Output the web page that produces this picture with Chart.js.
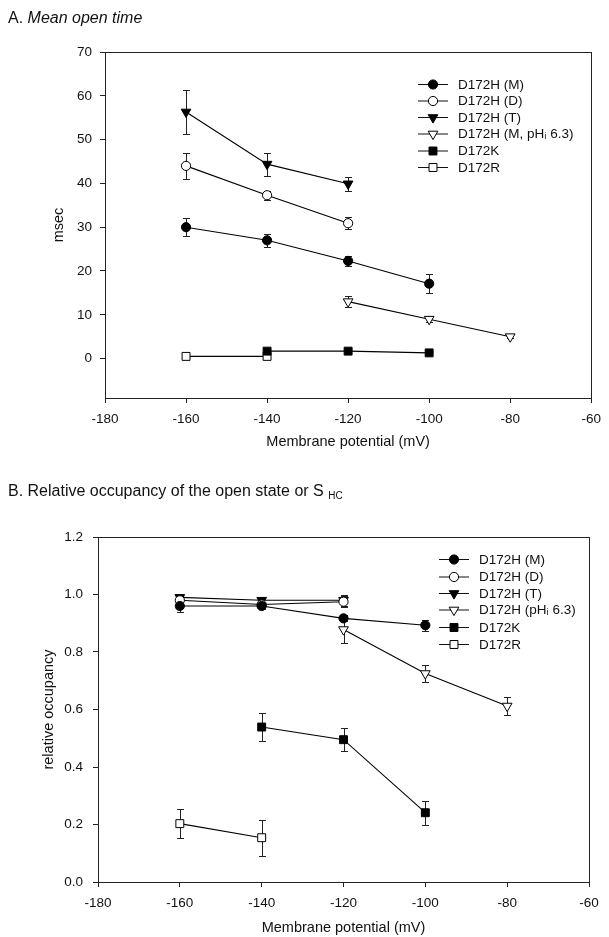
<!DOCTYPE html>
<html><head><meta charset="utf-8">
<script src="https://cdn.jsdelivr.net/npm/chart.js@4/dist/chart.umd.min.js"></script>
<style>
body{margin:0;background:#fff;width:609px;height:937px;position:relative;overflow:hidden;font-family:"Liberation Sans",Arial,sans-serif;}
canvas{position:absolute;left:0}
#c1{top:0}
#c2{top:460px}
.t{position:absolute;left:8px;font-size:16px;color:#111;white-space:nowrap;z-index:2}
.t sub{font-size:10px;vertical-align:-3px}
</style></head><body>
<canvas id="c1" width="609" height="460"></canvas>
<canvas id="c2" width="609" height="477"></canvas>
<div class="t" style="top:9px">A. <i>Mean open time</i></div>
<div class="t" style="top:482px">B. Relative occupancy of the open state or S <sub>HC</sub></div>
<script>
// ---------- Data: panel A (mean open time, msec) ----------
const labelsA = ['D172H (M)', 'D172H (D)', 'D172H (T)', 'D172H (M, pH\u1D62 6.3)', 'D172K', 'D172R'];
const vM_A = [-160, -140, -120, -100];
const yM_A = [30.0, 27.0, 22.3, 17.1];
const eM_A = [2.0, 1.5, 1.2, 2.1];
const vD_A = [-160, -140, -120];
const yD_A = [44.0, 37.3, 30.9];
const eD_A = [3.0, 1.0, 1.4];
const vT_A = [-160, -140, -120];
const yT_A = [56.3, 44.4, 39.9];
const eT_A = [5.0, 2.6, 1.6];
const vP_A = [-120, -100, -80];
const yP_A = [13.0, 9.0, 5.0];
const eP_A = [1.2, 0.7, 0.3];
const vK_A = [-140, -120, -100];
const yK_A = [1.7, 1.7, 1.3];
const eK_A = [0, 0, 0];
const vR_A = [-160, -140];
const yR_A = [0.5, 0.5];
const eR_A = [0, 0];
const yTicksA = [0, 10, 20, 30, 40, 50, 60, 70];

// ---------- Data: panel B (relative occupancy) ----------
const labelsB = ['D172H (M)', 'D172H (D)', 'D172H (T)', 'D172H (pH\u1D62 6.3)', 'D172K', 'D172R'];
const vM_B = [-160, -140, -120, -100];
const yM_B = [0.960, 0.960, 0.917, 0.893];
const eM_B = [0.020, 0.010, 0.010, 0.020];
const vD_B = [-160, -140, -120];
const yD_B = [0.980, 0.965, 0.975];
const eD_B = [0.010, 0.010, 0.020];
const vT_B = [-160, -140, -120];
const yT_B = [0.990, 0.980, 0.980];
const eT_B = [0.010, 0.010, 0.020];
const vP_B = [-120, -100, -80];
const yP_B = [0.878, 0.725, 0.612];
const eP_B = [0.048, 0.030, 0.030];
const vK_B = [-140, -120, -100];
const yK_B = [0.539, 0.495, 0.241];
const eK_B = [0.050, 0.040, 0.041];
const vR_B = [-160, -140];
const yR_B = [0.203, 0.154];
const eR_B = [0.050, 0.062];
const yTicksB = [0, 0.2, 0.4, 0.6, 0.8, 1.0, 1.2];

const xTicks = [-180, -160, -140, -120, -100, -80, -60];

// ---------- Styles ----------
const FONT = '"Liberation Sans", Arial, sans-serif';
const markerStyles = [
  {pointStyle: 'circle', radius: 4.6, rotation: 0, fill: '#000'},
  {pointStyle: 'circle', radius: 4.6, rotation: 0, fill: '#fff'},
  {pointStyle: 'triangle', radius: 5.6, rotation: 180, fill: '#000'},
  {pointStyle: 'triangle', radius: 5.6, rotation: 180, fill: '#fff'},
  {pointStyle: 'rect', radius: 5.6, rotation: 0, fill: '#000'},
  {pointStyle: 'rect', radius: 5.6, rotation: 0, fill: '#fff'}
];

function makeDataset(label, xs, ys, es, st) {
  return {
    label: label,
    data: xs.map((x, i) => ({x: x, y: ys[i]})),
    errors: es,
    borderColor: '#000',
    borderWidth: 1.1,
    showLine: true,
    fill: false,
    tension: 0,
    pointStyle: st.pointStyle,
    pointRadius: st.radius,
    pointRotation: st.rotation,
    pointBackgroundColor: st.fill,
    pointBorderColor: '#000',
    pointBorderWidth: 1
  };
}

const errorBars = {
  id: 'errorBars',
  beforeDatasetsDraw(chart) {
    const ctx = chart.ctx, xs = chart.scales.x, ys = chart.scales.y;
    ctx.save();
    ctx.strokeStyle = '#222';
    ctx.lineWidth = 1;
    chart.data.datasets.forEach(ds => {
      if (!ds.errors) return;
      ds.data.forEach((p, i) => {
        const e = ds.errors[i];
        if (!e) return;
        const px = Math.round(xs.getPixelForValue(p.x)) + 0.5;
        const y1 = Math.round(ys.getPixelForValue(p.y + e)) + 0.5;
        const y2 = Math.round(ys.getPixelForValue(p.y - e)) + 0.5;
        ctx.beginPath();
        ctx.moveTo(px, y1); ctx.lineTo(px, y2);
        ctx.moveTo(px - 3.5, y1); ctx.lineTo(px + 3.5, y1);
        ctx.moveTo(px - 3.5, y2); ctx.lineTo(px + 3.5, y2);
        ctx.stroke();
      });
    });
    ctx.restore();
  }
};

const frame = {
  id: 'frame',
  afterDraw(chart) {
    const a = chart.chartArea, ctx = chart.ctx;
    ctx.save();
    ctx.strokeStyle = '#222';
    ctx.lineWidth = 1;
    ctx.strokeRect(Math.round(a.left) + 0.5, Math.round(a.top) + 0.5, Math.round(a.right - a.left), Math.round(a.bottom - a.top));
    ctx.restore();
  }
};

const innerLegend = {
  id: 'innerLegend',
  afterDraw(chart, args, opts) {
    const ctx = chart.ctx;
    ctx.save();
    chart.data.datasets.forEach((ds, i) => {
      const y = opts.rows[i];
      const x0 = opts.x;
      ctx.strokeStyle = '#111';
      ctx.lineWidth = 1;
      ctx.beginPath();
      ctx.moveTo(x0, y + 0.5); ctx.lineTo(x0 + 30, y + 0.5);
      ctx.stroke();
      ctx.fillStyle = ds.pointBackgroundColor;
      ctx.strokeStyle = '#000';
      Chart.helpers.drawPoint(ctx, {pointStyle: ds.pointStyle, radius: ds.pointRadius, rotation: ds.pointRotation, borderWidth: 1}, x0 + 15, y + 0.5);
      ctx.fillStyle = '#111';
      ctx.font = '13.5px ' + FONT;
      ctx.textBaseline = 'middle';
      ctx.fillText(ds.label, x0 + 40, y + 1);
    });
    ctx.restore();
  }
};

function makeChart(canvasId, labels, series, cfg) {
  const datasets = series.map((s, i) => makeDataset(labels[i], s[0], s[1], s[2], markerStyles[i]));
  return new Chart(document.getElementById(canvasId), {
    type: 'scatter',
    data: {datasets: datasets},
    plugins: [errorBars, frame, innerLegend],
    options: {
      responsive: false,
      animation: false,
      layout: {padding: {top: cfg.top, right: cfg.right, left: 0, bottom: 0}},
      plugins: {
        legend: {display: false},
        tooltip: {enabled: false},
        innerLegend: {x: cfg.legendX, rows: cfg.legendRows}
      },
      scales: {
        x: {
          type: 'linear', min: -180, max: -60,
          afterBuildTicks: s => { s.ticks = xTicks.map(v => ({value: v})); },
          afterFit: s => { s.height = cfg.xHeight; },
          grid: {drawOnChartArea: false, drawTicks: true, tickLength: 5, color: '#222'},
          border: {color: '#222'},
          ticks: {color: '#111', font: {size: 13.5, family: FONT}, padding: cfg.xTickPad, maxRotation: 0, callback: v => String(v)},
          title: {display: true, text: 'Membrane potential (mV)', color: '#111', font: {size: 14.5, family: FONT}, padding: {top: 0, bottom: cfg.xTitlePad}}
        },
        y: {
          type: 'linear', min: cfg.yMin, max: cfg.yMax,
          afterBuildTicks: s => { s.ticks = cfg.yTicks.map(v => ({value: v})); },
          afterFit: s => { s.width = cfg.yWidth; },
          grid: {drawOnChartArea: false, drawTicks: true, tickLength: 5, color: '#222'},
          border: {color: '#222'},
          ticks: {color: '#111', font: {size: 13.5, family: FONT}, padding: cfg.yTickPad, callback: cfg.yFmt},
          title: {display: true, text: cfg.yTitle, color: '#111', font: {size: 14.5, family: FONT}, padding: {top: cfg.yTitlePad, bottom: 0}}
        }
      }
    }
  });
}

makeChart('c1', labelsA, [
  [vM_A, yM_A, eM_A], [vD_A, yD_A, eD_A], [vT_A, yT_A, eT_A],
  [vP_A, yP_A, eP_A], [vK_A, yK_A, eK_A], [vR_A, yR_A, eR_A]
], {
  top: 52, right: 16, xHeight: 62, yWidth: 105, yMin: -9, yMax: 70, yTicks: yTicksA,
  yFmt: v => String(v), yTitle: 'msec', yTitlePad: 50, yTickPad: 8, xTickPad: 8, xTitlePad: 9,
  legendX: 418, legendRows: [84, 100.5, 117, 133.5, 150.5, 167]
});

makeChart('c2', labelsB, [
  [vM_B, yM_B, eM_B], [vD_B, yD_B, eD_B], [vT_B, yT_B, eT_B],
  [vP_B, yP_B, eP_B], [vK_B, yK_B, eK_B], [vR_B, yR_B, eR_B]
], {
  top: 77, right: 20, xHeight: 55, yWidth: 98, yMin: 0, yMax: 1.2, yTicks: yTicksB,
  yFmt: v => Number(v).toFixed(1), yTitle: 'relative occupancy', yTitlePad: 40, yTickPad: 10, xTickPad: 8, xTitlePad: 0,
  legendX: 439, legendRows: [99, 116.5, 133, 149.5, 167, 184]
});
</script>
</body></html>
